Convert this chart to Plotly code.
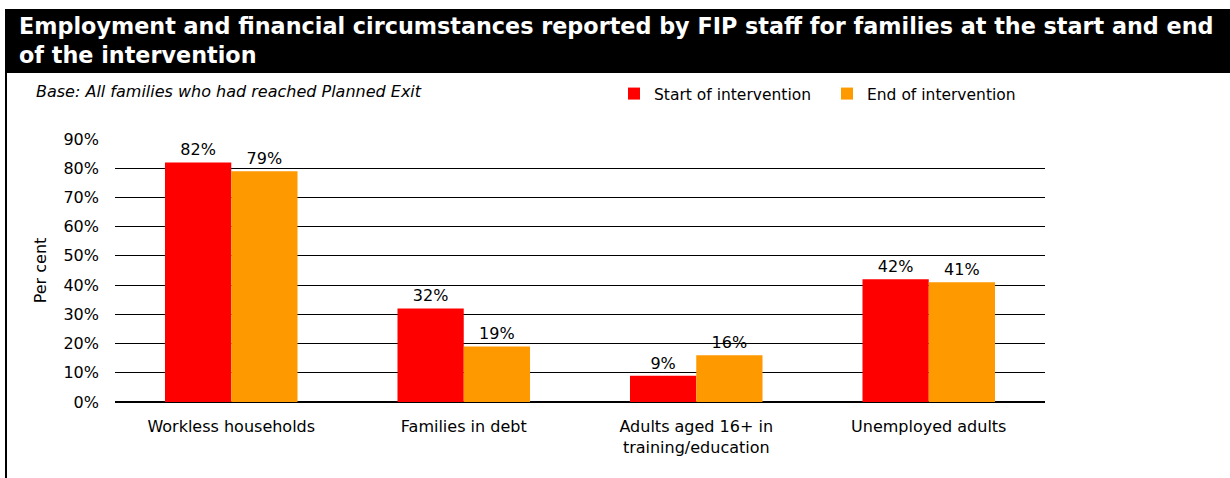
import plotly.graph_objects as go

categories = ["Workless households", "Families in debt", "Adults aged 16+ in<br>training/education", "Unemployed adults"]
start_vals = [82, 32, 9, 42]
end_vals = [79, 19, 16, 41]
series_names = ["Start of intervention", "End of intervention"]
tick_vals = [0, 10, 20, 30, 40, 50, 60, 70, 80, 90]
tick_text = [f"{v}%" for v in tick_vals]
title_lines = ["Employment and financial circumstances reported by FIP staff for families at the start and end",
               "of the intervention"]
base_note = "Base: All families who had reached Planned Exit"

W, H = 1230, 478
L, R, T, B = 115, 1045, 139, 402

def px_x(px):
    return (px - L) / (R - L)

def px_y(py):
    return (B - py) / (B - T)

FONT = "DejaVu Sans, Arial, sans-serif"

fig = go.Figure()
fig.add_trace(go.Bar(
    x=categories, y=start_vals, name=series_names[0],
    marker=dict(color="#FF0000", line=dict(width=0)),
    text=[f"{v}%" for v in start_vals], textposition="outside",
    textfont=dict(size=16, color="black", family=FONT), cliponaxis=False,
))
fig.add_trace(go.Bar(
    x=categories, y=end_vals, name=series_names[1],
    marker=dict(color="#FF9900", line=dict(width=0)),
    text=[f"{v}%" for v in end_vals], textposition="outside",
    textfont=dict(size=16, color="black", family=FONT), cliponaxis=False,
))

fig.update_layout(
    width=W, height=H,
    margin=dict(l=L, r=W - R, t=T, b=H - B, pad=0),
    paper_bgcolor="white", plot_bgcolor="white",
    barmode="group", bargap=0.43, bargroupgap=0,
    font=dict(family=FONT, size=16, color="black"),
    showlegend=True,
    legend=dict(
        orientation="h", x=px_x(614), y=px_y(94), xanchor="left", yanchor="middle",
        font=dict(size=15.5, family=FONT), entrywidth=168, entrywidthmode="pixels",
        bgcolor="rgba(0,0,0,0)", itemclick=False, itemdoubleclick=False,
    ),
    xaxis=dict(
        showgrid=False, showline=False, ticks="", tickfont=dict(size=16, family=FONT),
        ticklabelstandoff=13, fixedrange=True,
    ),
    yaxis=dict(
        range=[0, 90], tickmode="array", tickvals=tick_vals, ticktext=tick_text,
        showgrid=True, gridcolor="black", gridwidth=1,
        zeroline=True, zerolinecolor="black", zerolinewidth=2,
        showline=False, ticks="", ticklabelstandoff=15,
        tickfont=dict(size=16, family=FONT),
        title=dict(text="Per cent", font=dict(size=16, family=FONT), standoff=12),
        fixedrange=True,
    ),
    shapes=[
        dict(type="rect", xref="paper", yref="paper",
             x0=px_x(5), x1=px_x(1240), y0=px_y(73), y1=px_y(9),
             fillcolor="black", line=dict(width=0), layer="above"),
        dict(type="line", xref="paper", yref="paper",
             x0=px_x(6), x1=px_x(6), y0=px_y(73), y1=px_y(480),
             line=dict(color="black", width=2)),
    ],
    annotations=[
        dict(text="<b>" + "<br>".join(title_lines) + "</b>",
             xref="paper", yref="paper", x=px_x(17), y=px_y(11), xanchor="left", yanchor="top",
             align="left", showarrow=False,
             font=dict(size=22.3, color="white", family=FONT)),
        dict(text=f"<i>{base_note}</i>",
             xref="paper", yref="paper", x=px_x(34), y=px_y(92), xanchor="left", yanchor="middle",
             showarrow=False, font=dict(size=16, color="black", family=FONT)),
    ],
)

fig.write_html("out.html", config={"displayModeBar": False},
               post_script="document.body.style.margin='0';document.body.style.overflow='hidden';")
